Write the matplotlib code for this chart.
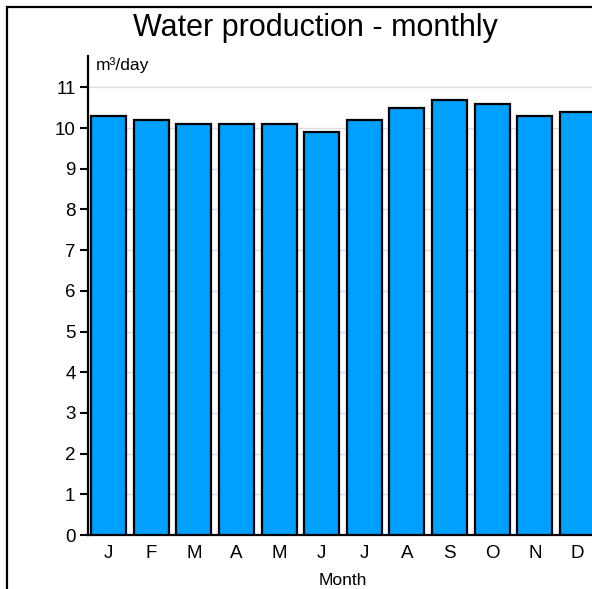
import matplotlib.pyplot as plt
from matplotlib.patches import Rectangle

plt.rcParams['font.family'] = ['Liberation Sans', 'DejaVu Sans']

months = ['J', 'F', 'M', 'A', 'M', 'J', 'J', 'A', 'S', 'O', 'N', 'D']
production = [10.3, 10.2, 10.1, 10.1, 10.1, 9.9, 10.2, 10.5, 10.7, 10.6, 10.3, 10.4]
yticks = list(range(0, 12))

fig = plt.figure(figsize=(5.92, 5.89), dpi=100)
ax = fig.add_axes([88 / 592, 54 / 589, 510 / 592, 479 / 589])

x = range(len(months))
ax.bar(x, production, width=0.82, color='#00a0ff', edgecolor='black', linewidth=1.6, zorder=3)
ax.set_xlim(-0.48, len(months) - 0.52)
ax.set_ylim(0, 11.77)
ax.set_xticks(list(x))
ax.set_xticklabels(months, fontsize=13.5)
ax.set_yticks(yticks)
ax.set_yticklabels([str(v) for v in yticks], fontsize=13.5)
ax.tick_params(axis='x', length=0, pad=7)
ax.tick_params(axis='y', length=6, width=1.5, direction='out', pad=3)
ax.yaxis.grid(True, color='#dddddd', linewidth=1, zorder=0)
for s in ['top', 'right']:
    ax.spines[s].set_visible(False)
for s in ['left', 'bottom']:
    ax.spines[s].set_linewidth(1.6)
ax.set_xlabel('Month', fontsize=12.5, labelpad=8)
ax.text(0.015, 0.997, 'm³/day', transform=ax.transAxes, fontsize=12.5, va='top', ha='left')

fig.text(315 / 592, 1 - 28 / 589, 'Water production - monthly', fontsize=22, ha='center', va='center')
fig.patches.append(Rectangle((7 / 592, -0.1), 1.2, 1 - 7 / 589 + 0.1, transform=fig.transFigure,
                             fill=False, edgecolor='black', linewidth=1.6))

fig.savefig('out.png', dpi=100)
